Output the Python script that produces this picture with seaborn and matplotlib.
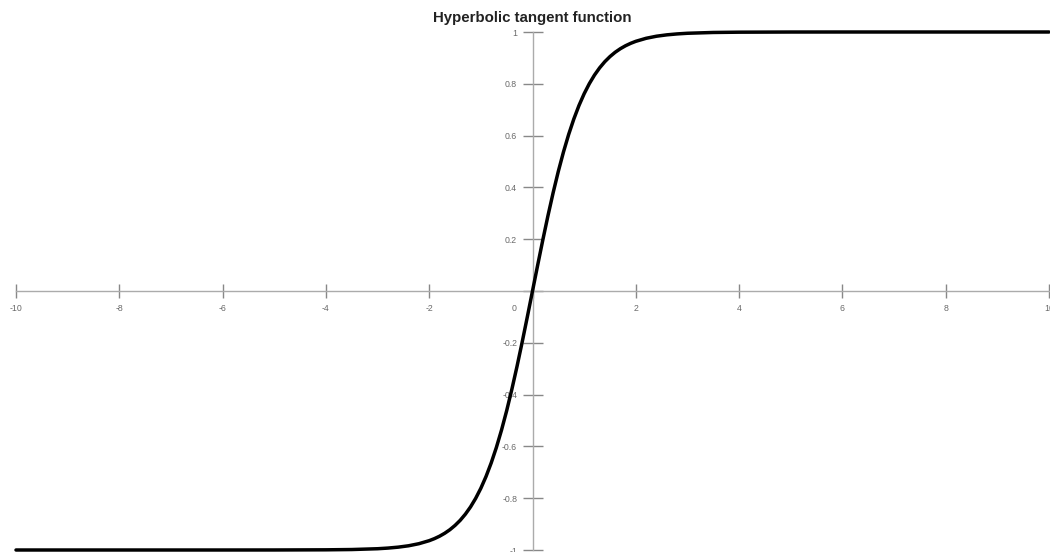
import matplotlib
matplotlib.use("Agg")
import matplotlib.pyplot as plt
import seaborn as sns
import pandas as pd

# Sampled points of tanh(x)
x_vals = [-10, -8, -6, -5, -4, -3.5, -3.0, -2.8, -2.6, -2.4, -2.2, -2.0,
          -1.9, -1.8, -1.7, -1.6, -1.5, -1.4, -1.3, -1.2, -1.1, -1.0,
          -0.9, -0.8, -0.7, -0.6, -0.5, -0.4, -0.3, -0.2, -0.1, 0.0,
          0.1, 0.2, 0.3, 0.4, 0.5, 0.6, 0.7, 0.8, 0.9, 1.0,
          1.1, 1.2, 1.3, 1.4, 1.5, 1.6, 1.7, 1.8, 1.9, 2.0,
          2.2, 2.4, 2.6, 2.8, 3.0, 3.5, 4, 5, 6, 8, 10]
y_vals = [-1.0, -1.0, -1.0, -0.9999, -0.9993, -0.9982, -0.9951, -0.9926, -0.9890, -0.9837, -0.9757, -0.9640,
          -0.9562, -0.9468, -0.9354, -0.9217, -0.9051, -0.8854, -0.8617, -0.8337, -0.8005, -0.7616,
          -0.7163, -0.6640, -0.6044, -0.5370, -0.4621, -0.3799, -0.2913, -0.1974, -0.0997, 0.0,
          0.0997, 0.1974, 0.2913, 0.3799, 0.4621, 0.5370, 0.6044, 0.6640, 0.7163, 0.7616,
          0.8005, 0.8337, 0.8617, 0.8854, 0.9051, 0.9217, 0.9354, 0.9468, 0.9562, 0.9640,
          0.9757, 0.9837, 0.9890, 0.9926, 0.9951, 0.9982, 0.9993, 0.9999, 1.0, 1.0, 1.0]

x_ticks = [-10, -8, -6, -4, -2, 0, 2, 4, 6, 8, 10]
x_tick_labels = ["-10", "-8", "-6", "-4", "-2", "", "2", "4", "6", "8", "10"]
y_ticks = [-1, -0.8, -0.6, -0.4, -0.2, 0, 0.2, 0.4, 0.6, 0.8, 1]
y_tick_labels = ["-1", "-0.8", "-0.6", "-0.4", "-0.2", "", "0.2", "0.4", "0.6", "0.8", "1"]
title = "Hyperbolic tangent function"

sns.set_theme(style="white")
plt.rcParams["font.family"] = ["Liberation Sans", "DejaVu Sans"]

df = pd.DataFrame({"x": x_vals, "y": y_vals})

fig = plt.figure(figsize=(10.5, 5.52), dpi=100)
ax = fig.add_axes([16 / 1050, 2 / 552, 1033 / 1050, 518 / 552])

sns.lineplot(data=df, x="x", y="y", ax=ax, color="black", linewidth=2.5,
             clip_on=False, zorder=3)

ax.set_xlim(-10, 10)
ax.set_ylim(-1, 1)

axis_color = "#ababab"
for side in ["left", "bottom"]:
    ax.spines[side].set_position("zero")
    ax.spines[side].set_color(axis_color)
    ax.spines[side].set_linewidth(1.0)
for side in ["top", "right"]:
    ax.spines[side].set_visible(False)

ax.set_xticks(x_ticks)
ax.set_xticklabels(x_tick_labels)
ax.set_yticks(y_ticks)
ax.set_yticklabels(y_tick_labels)

label_size = 6.3
ax.tick_params(axis="x", direction="inout", length=10, width=1.0,
               color="#888888", labelsize=label_size, labelcolor="#6a6a6a", pad=4.5,
               bottom=True)
ax.tick_params(axis="y", direction="inout", length=14, width=1.0,
               color="#888888", labelsize=label_size, labelcolor="#6a6a6a", pad=4,
               left=True)
for lbl in ax.get_xticklabels() + ax.get_yticklabels():
    lbl.set_clip_on(False)

# Shared origin label
ax.annotate("0", xy=(0, 0), xytext=(-13, -12.5), textcoords="offset points",
            ha="center", va="center", fontsize=label_size, color="#6a6a6a")

ax.set_xlabel("")
ax.set_ylabel("")
ax.grid(False)
ax.set_title(title, fontsize=10.8, fontweight="bold", color="#222222", pad=7)

fig.savefig("out.png", dpi=100)
